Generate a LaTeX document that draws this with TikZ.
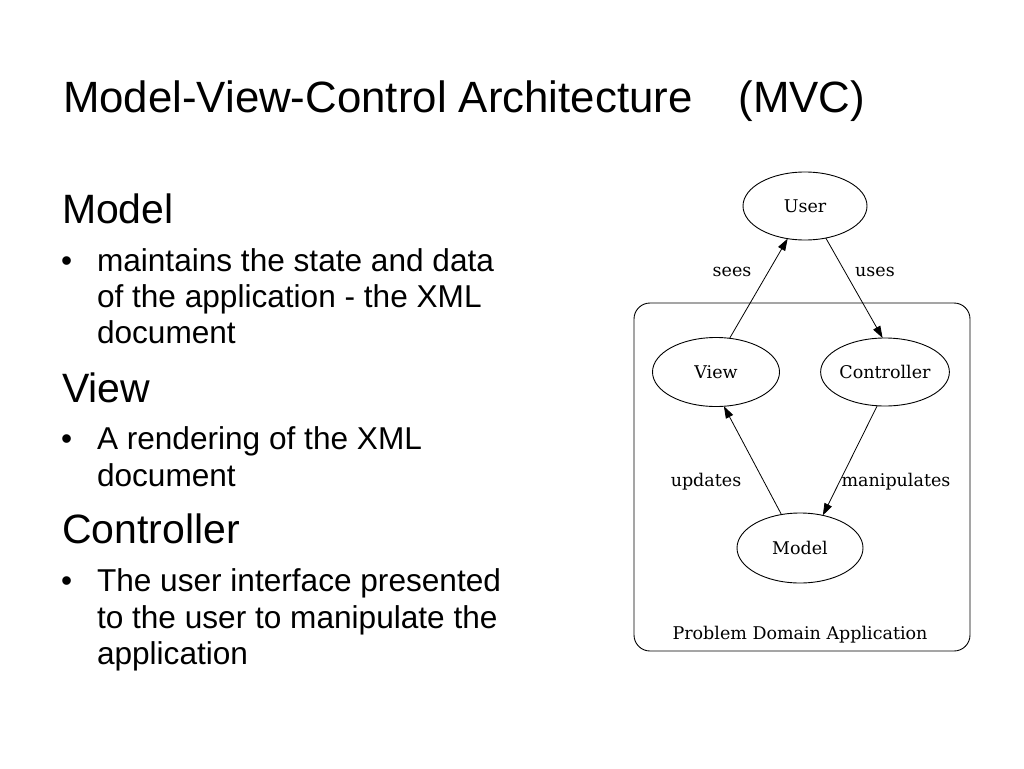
\documentclass[tikz,border=0pt]{standalone}
\usepackage{fontspec}
\setmainfont{Liberation Sans}
\newfontfamily\dfont{DejaVu Serif}
\usetikzlibrary{shapes.geometric,arrows.meta}
\begin{document}
\begin{tikzpicture}[x=1pt,y=-1pt,
  every node/.style={inner sep=0pt,outer sep=0pt},
  titletxt/.style={anchor=base west,font=\fontsize{43.8}{50}\selectfont},
  headtxt/.style={anchor=base west,font=\fontsize{41}{48}\selectfont},
  bultxt/.style={anchor=base west,font=\fontsize{31.6}{36}\selectfont},
  ell/.style={draw,ellipse,line width=0.9pt,font=\dfont\fontsize{17.5}{20}\selectfont},
  lbl/.style={font=\dfont\fontsize{17.5}{20}\selectfont},
  arr/.style={-{Triangle[length=12pt,width=8pt]},line width=0.8pt}]
\useasboundingbox (0,0) rectangle (1024,768);
\fill[white] (0,0) rectangle (1024,768);
% title
\node[titletxt] (title) at (63,112) {Model-View-Control Architecture\hspace{46pt}(MVC)};
% left column
\node[headtxt] (hmodel) at (62,223) {Model};
\node[bultxt] (b1) at (61,271) {•};
\node[bultxt] (m1) at (97,271) {maintains the state and data};
\node[bultxt] (m2) at (97,307) {of the application - the XML};
\node[bultxt] (m3) at (97,343) {document};
\node[headtxt] (hview) at (62,402) {View};
\node[bultxt] (b2) at (61,449) {•};
\node[bultxt] (v1) at (97,449) {A rendering of the XML};
\node[bultxt] (v2) at (97,486) {document};
\node[headtxt] (hctrl) at (62,543) {Controller};
\node[bultxt] (b3) at (61,591) {•};
\node[bultxt] (c1) at (97,591) {The user interface presented};
\node[bultxt] (c2) at (97,628) {to the user to manipulate the};
\node[bultxt] (c3) at (97,664) {application};
% diagram
\node[draw,rounded corners=16pt,line width=0.9pt,minimum width=336pt,minimum height=348pt] (pda) at (802,477) {};
\node[lbl] (pdalbl) at (800,635) {Problem Domain Application};
\node[ell,minimum width=124pt,minimum height=68pt] (user) at (805,206) {User};
\node[ell,minimum width=127pt,minimum height=69pt] (view) at (716,372) {View};
\node[ell,minimum width=124pt,minimum height=68pt] (ctrl) at (885,372) {Controller};
\node[ell,minimum width=126pt,minimum height=70pt] (model) at (800,548) {Model};
\draw[arr] (view.68) -- (user.242);
\draw[arr] (user.303) -- (ctrl.94);
\draw[arr] (model.119) -- (view.283);
\draw[arr] (ctrl.257) -- (model.55);
\node[lbl] (lsees) at (732,272) {sees};
\node[lbl] (luses) at (875,272) {uses};
\node[lbl] (lupd) at (706,482) {updates};
\node[lbl] (lman) at (896,482) {manipulates};
\end{tikzpicture}
\end{document}
